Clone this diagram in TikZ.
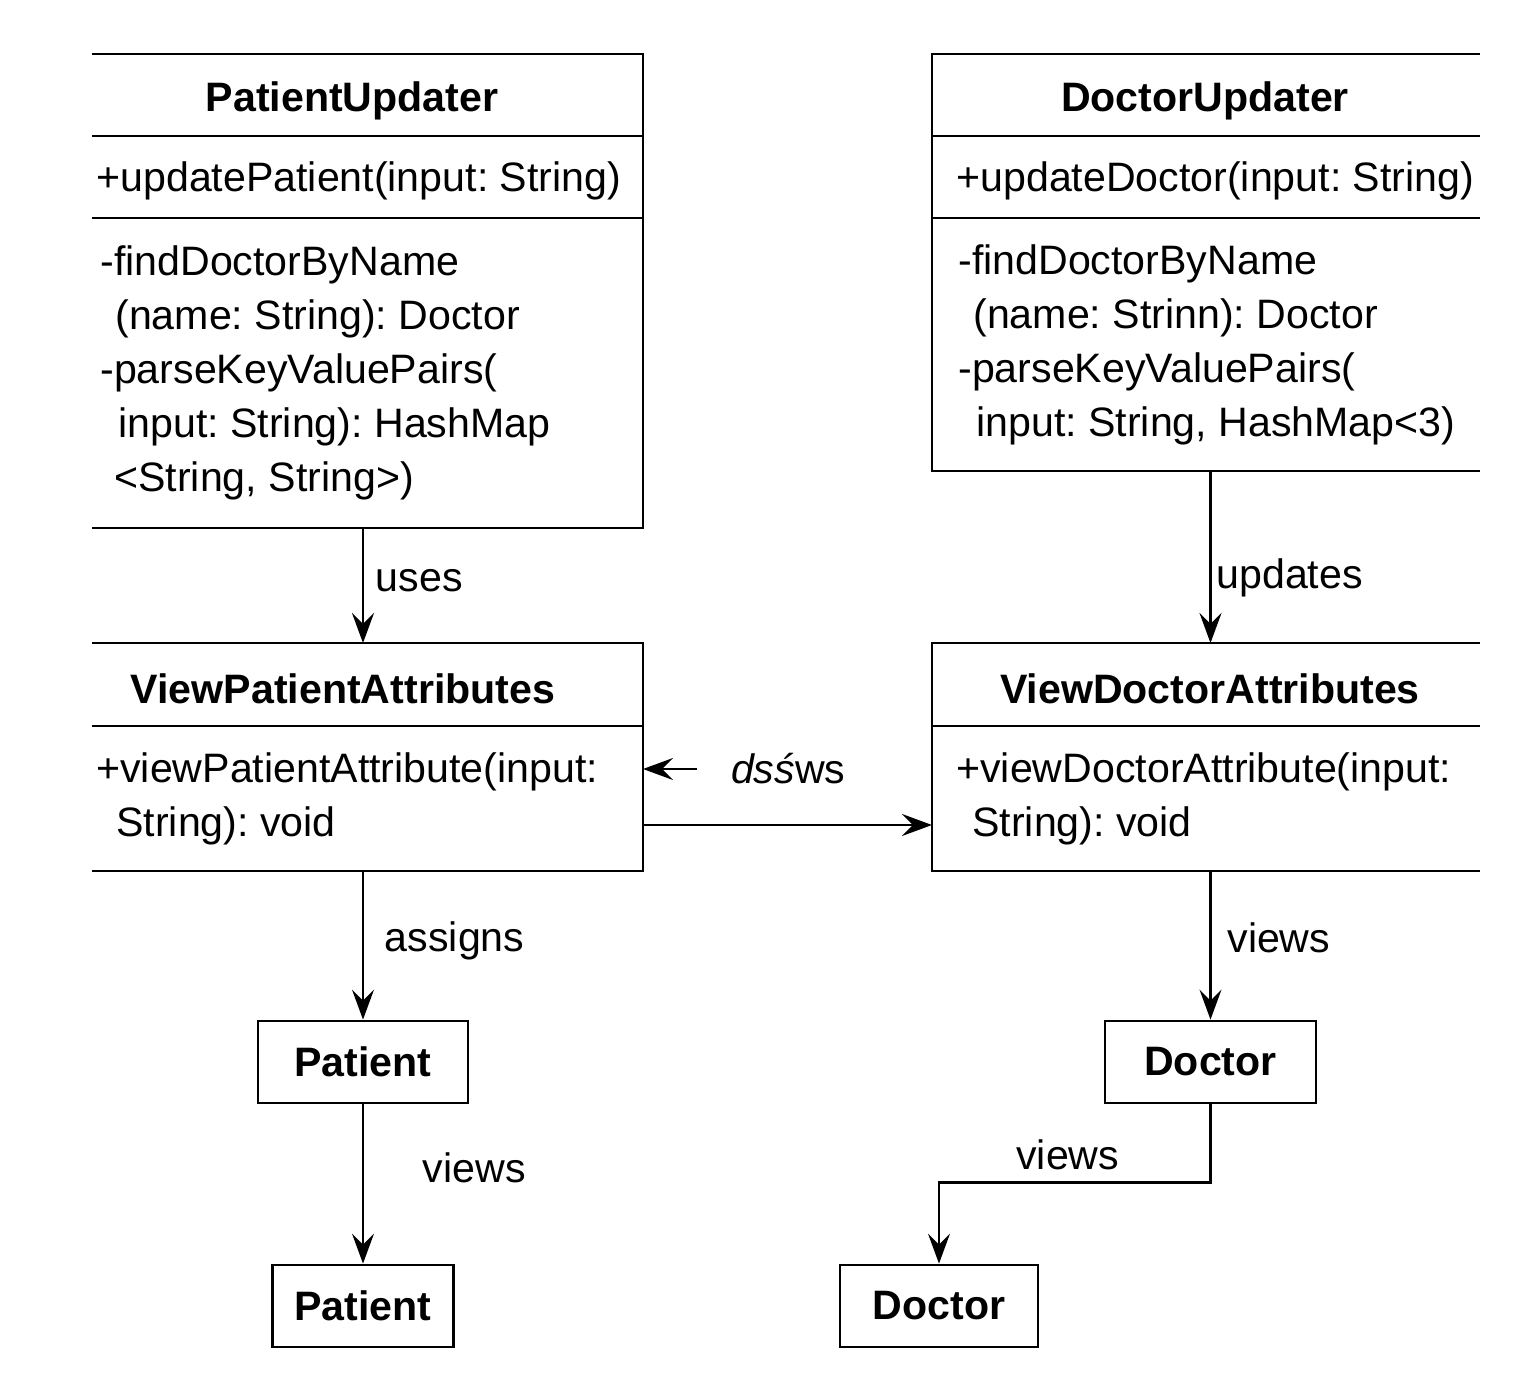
\documentclass[tikz,border=0pt]{standalone}
\usepackage{fontspec}
\setmainfont{Liberation Sans}
\frenchspacing
\usetikzlibrary{positioning, arrows.meta}

\begin{document}
\begin{tikzpicture}[>={Stealth[length=3mm,width=2.2mm,inset=1.1mm]}, line width=0.8pt,
  every node/.style={font=\fontsize{11.7}{15.4}\selectfont},
  classframe/.style={rectangle, draw=none, inner sep=0pt, outer sep=0pt},
  classtitle/.style={font=\fontsize{11.7}{15.4}\selectfont\bfseries},
  member/.style={anchor=west, align=left, inner sep=0pt},
  objbox/.style={rectangle, draw, inner sep=0pt, minimum height=0.82cm, font=\fontsize{11.7}{15.4}\selectfont\bfseries},
  conn/.style={->, line width=0.7pt},
]
\useasboundingbox (0,0) rectangle (15.4,-13.94);

%% PatientUpdater (open on the left)
\node[classframe, minimum width=5.51cm, minimum height=4.74cm] (pu) at (3.675,-2.91) {};
\draw (pu.north west) -- (pu.north east) -- (pu.south east) -- (pu.south west);
\draw (pu.west |- 0,-1.36) -- (pu.east |- 0,-1.36)
      (pu.west |- 0,-2.18) -- (pu.east |- 0,-2.18);
\node[classtitle] (pu-name) at (3.52,-1.01) {PatientUpdater};
\node[member] (pu-pub) at (0.95,-1.81) {+updatePatient(input: String)};
\node[member] (pu-priv) at (0.99,-3.73) {-findDoctorByName\\
  \hspace*{0.15cm}(name: String): Doctor\\
  -parseKeyValuePairs(\\
  \hspace*{0.18cm}input: String): HashMap\\
  \hspace*{0.14cm}<String, String>)};

%% DoctorUpdater (open on the right)
\node[classframe, minimum width=5.48cm, minimum height=4.17cm] (du) at (12.06,-2.625) {};
\draw (du.north east) -- (du.north west) -- (du.south west) -- (du.south east);
\draw (du.west |- 0,-1.36) -- (du.east |- 0,-1.36)
      (du.west |- 0,-2.18) -- (du.east |- 0,-2.18);
\node[classtitle] (du-name) at (12.05,-1.01) {DoctorUpdater};
\node[member] (du-pub) at (9.55,-1.81) {+updateDoctor(input: String)};
\node[member] (du-priv) at (9.57,-3.45) {-findDoctorByName\\
  \hspace*{0.15cm}(name: Strinn): Doctor\\
  -parseKeyValuePairs(\\
  \hspace*{0.18cm}input: String, HashMap<3)};

%% ViewPatientAttributes
\node[classframe, minimum width=5.51cm, minimum height=2.28cm] (vpa) at (3.675,-7.57) {};
\draw (vpa.north west) -- (vpa.north east) -- (vpa.south east) -- (vpa.south west);
\draw (vpa.west |- 0,-7.26) -- (vpa.east |- 0,-7.26);
\node[classtitle] (vpa-name) at (3.43,-6.89) {ViewPatientAttributes};
\node[member] (vpa-pub) at (0.95,-7.99) {+viewPatientAttribute(input:\\
  \hspace*{0.2cm}String): void};

%% ViewDoctorAttributes
\node[classframe, minimum width=5.48cm, minimum height=2.28cm] (vda) at (12.06,-7.57) {};
\draw (vda.north east) -- (vda.north west) -- (vda.south west) -- (vda.south east);
\draw (vda.west |- 0,-7.26) -- (vda.east |- 0,-7.26);
\node[classtitle] (vda-name) at (12.10,-6.89) {ViewDoctorAttributes};
\node[member] (vda-pub) at (9.55,-7.99) {+viewDoctorAttribute(input:\\
  \hspace*{0.16cm}String): void};

%% entity boxes
\node[objbox, minimum width=2.10cm] (pat1) at (3.63,-10.62) {Patient};
\node[objbox, minimum width=1.81cm] (pat2) at (3.63,-13.06) {Patient};
\node[objbox, minimum width=2.11cm] (doc1) at (12.105,-10.62) {Doctor};
\node[objbox, minimum width=1.98cm] (doc2) at (9.39,-13.06) {Doctor};

%% connectors
\draw[conn] (pu.south -| pat1) -- node[right, pos=0.46] {uses} (vpa.north -| pat1);
\draw[conn] (du.south -| doc1) -- node[right, pos=0.62, xshift=-0.07cm] {updates} (vda.north -| doc1);
\draw[conn] (vpa.south -| pat1) -- node[right, pos=0.47, xshift=0.09cm] {assigns} (pat1.north);
\draw[conn] (vda.south -| doc1) -- node[right, pos=0.447, xshift=0.04cm] {views} (doc1.north);
\draw[conn] (pat1.south) -- node[right, pos=0.4, xshift=0.47cm] {views} (pat2.north);
\draw[conn] (doc1.south) -- ++(0,-0.78) coordinate (bend) -| node[pos=0.25, above, xshift=-0.07cm] {views} (doc2.north);

\node[anchor=west] (dss) at (7.18,-7.69) {\textit{ds\'s}ws};
\draw[conn] ([xshift=-0.21cm]dss.west) -- (vpa.east |- dss.west);
\draw[conn] (vpa.east |- 0,-8.25) -- (vda.west |- 0,-8.25);

\end{tikzpicture}
\end{document}
